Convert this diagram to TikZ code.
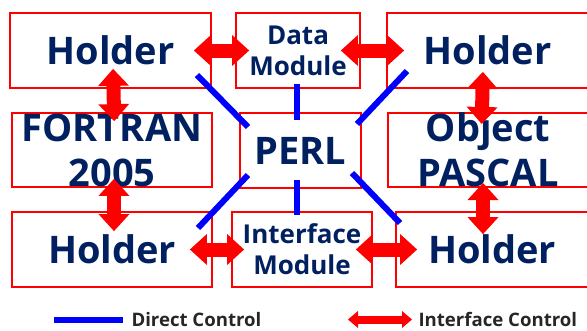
\documentclass[tikz,border=0pt]{standalone}
\usepackage{fontspec}
\setmainfont{Open Sans}
\usetikzlibrary{arrows.meta}
\definecolor{navy}{RGB}{0,32,96}

\begin{document}
\begin{tikzpicture}[x=1pt,y=-1pt,
  box/.style={draw=red,line width=1.8pt,inner sep=0pt,text=navy,align=center,
    font=\bfseries\fontsize{38}{45}\selectfont,minimum height=75pt},
  small/.style={font=\bfseries\fontsize{26}{31}\selectfont},
  direct/.style={draw=blue,line width=6pt},
  iface/.style={draw=red,line width=14pt,
    {Triangle[width=31pt,length=17pt,line width=0pt]}-{Triangle[width=31pt,length=17pt,line width=0pt]}},
  legend/.style={anchor=west,text=black!85,font=\bfseries\fontsize{18.6}{20}\selectfont}]
  \useasboundingbox (0,0) rectangle (587,330);
  % boxes
  \node[box,minimum width=201pt] (hA) at (110.5,50.5) {Holder};
  \node[box,small,minimum width=124pt] (data) at (298,50.5) {Data\\Module};
  \node[box,minimum width=201pt] (hB) at (487.5,50.5) {Holder};
  \node[box,minimum width=200pt,minimum height=74pt] (fortran) at (112,150) {FORTRAN\\2005};
  \node[box,minimum width=121pt] (perl) at (300.5,150.5) {PERL};
  \node[box,minimum width=200pt,minimum height=74pt] (pascal) at (488,150) {Object\\PASCAL};
  \node[box,minimum width=200pt] (hC) at (112,249.5) {Holder};
  \node[box,small,minimum width=140pt] (ifmod) at (302,249.5) {Interface\\Module};
  \node[box,minimum width=192pt] (hD) at (492,249.5) {Holder};
  % direct control
  \draw[direct] (197,75) -- (248,127);
  \draw[direct] (297,84) -- (297,120);
  \draw[direct] (407,71) -- (357,124);
  \draw[direct] (248,175) -- (198,228);
  \draw[direct] (297,180) -- (297,215);
  \draw[direct] (352,173) -- (400,223);
  % interface control
  \draw[iface,shorten <=-18pt,shorten >=-14pt] (hA.east) -- (data.west);
  \draw[iface,shorten <=-20pt,shorten >=-18pt] (data.east) -- (hB.west);
  \draw[iface,shorten <=-20pt,shorten >=-9pt] ([xshift=3pt]hA.south) -- ([xshift=2pt]fortran.north);
  \draw[iface,shorten <=-17pt,shorten >=-12pt] ([xshift=-5pt]hB.south) -- ([xshift=-6pt]pascal.north);
  \draw[iface,shorten <=-9pt,shorten >=-20pt] ([xshift=2pt]fortran.south) -- ([xshift=2pt]hC.north);
  \draw[iface,shorten <=-5pt,shorten >=-23pt] ([xshift=-5pt]pascal.south) -- ([xshift=-9pt]hD.north);
  \draw[iface,shorten <=-23pt,shorten >=-13pt] (hC.east) -- (ifmod.west);
  \draw[iface,shorten <=-17pt,shorten >=-22pt] (ifmod.east) -- (hD.west);
  % legend
  \node[legend] (dctext) at (128,319.5) {Direct Control};
  \coordinate (dc) at (54,319.5);
  \draw[direct,shorten >=5pt] (dc) -- (dctext.west);
  \node[legend] (ictext) at (415,319.5) {Interface Control};
  \coordinate (ic) at (348,319.5);
  \draw[draw=red,line width=8pt,
    {Triangle[width=17pt,length=10pt,line width=0pt]}-{Triangle[width=17pt,length=10pt,line width=0pt]},
    shorten >=3pt] (ic) -- (ictext.west);
\end{tikzpicture}
\end{document}
